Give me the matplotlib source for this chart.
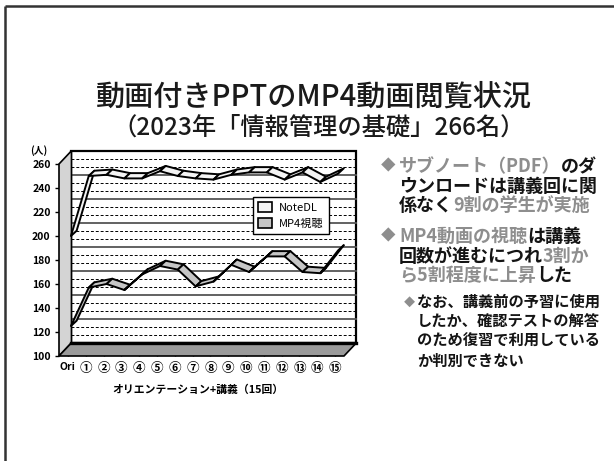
import numpy as np
import matplotlib
matplotlib.use('Agg')
import matplotlib.pyplot as plt
from matplotlib.patches import Polygon, Patch

plt.rcParams['font.family'] = ['Noto Sans CJK JP', 'DejaVu Sans']

# data
categories = ['Ori', '①', '②', '③', '④', '⑤', '⑥', '⑦',
              '⑧', '⑨', '⑩', '⑪', '⑫', '⑬', '⑭', '⑮']
note_dl = [200, 250, 251, 248, 248, 254, 250, 248, 247, 251, 253, 253, 247, 253, 245, 252]
mp4_view = [125, 157, 160, 155, 168, 175, 172, 158, 162, 176, 170, 183, 183, 170, 169, 188]
y_ticks = [100, 120, 140, 160, 180, 200, 220, 240, 260]
series_names = ['NoteDL', 'MP4視聴']

W, H = 614, 461
GRAY = '#8e8e8e'
DARK = '#141414'

fig = plt.figure(figsize=(W / 100, H / 100), dpi=100)
fig.patch.set_facecolor('white')

# background axes in pixel units (for slide frame and text)
bg = fig.add_axes([0, 0, 1, 1])
bg.set_xlim(0, W)
bg.set_ylim(H, 0)
bg.axis('off')

# slide frame (top and left only are visible)
bg.plot([5, W], [6, 6], color='#333333', lw=1.8, solid_capstyle='butt')
bg.plot([5, 5], [6, H], color='#333333', lw=1.8, solid_capstyle='butt')

bg.text(314, 97, '動画付きPPTのMP4動画閲覧状況', ha='center', va='center',
        fontsize=21, fontweight='medium', color='#1a1a1a')
bg.text(319, 128, '（2023年「情報管理の基礎」266名）', ha='center', va='center',
        fontsize=17.5, fontweight='medium', color='#1a1a1a')


def colored_line(x, y, pieces, size):
    prev = None
    for txt, col in pieces:
        if prev is None:
            prev = bg.text(x, y, txt, color=col, fontsize=size, fontweight='bold',
                           ha='left', va='center')
        else:
            prev = bg.annotate(txt, xy=(1, 0), xycoords=prev, color=col, fontsize=size,
                               fontweight='bold', ha='left', va='bottom')
    return prev


# right-hand bullet text
main_lines = [
    (166.5, True, [('サブノート（PDF）', GRAY), ('のダ', DARK)]),
    (186, False, [('ウンロードは講義回に関', DARK)]),
    (205, False, [('係なく', DARK), ('9割の学生が実施', GRAY)]),
    (236.5, True, [('MP4動画の視聴', GRAY), ('は講義', DARK)]),
    (256.5, False, [('回数が進むにつれ', DARK), ('3割か', GRAY)]),
    (275, False, [('ら5割程度に上昇', GRAY), ('した', DARK)]),
]
for y, bullet, pieces in main_lines:
    if bullet:
        bg.text(381, y, '◆', color=GRAY, fontsize=10.5, ha='left', va='center')
    colored_line(399, y, pieces, 13)

sub_lines = [
    (302, True, 'なお、講義前の予習に使用'),
    (321.5, False, 'したか、確認テストの解答'),
    (341, False, 'のため復習で利用している'),
    (361, False, 'か判別できない'),
]
for y, bullet, txt in sub_lines:
    if bullet:
        bg.text(404, y, '◆', color=GRAY, fontsize=8, ha='left', va='center')
    colored_line(417, y, [(txt, DARK)], 11)

# chart: front plane of the 3D box
ax = fig.add_axes([59 / W, 1 - 356 / H, 285 / W, 192 / H])
ax.set_xlim(-0.5, 15.5)
ax.set_ylim(100, 260)
for s in ax.spines.values():
    s.set_visible(False)
ax.patch.set_visible(False)

DX, DY = 0.7, 11.0        # depth of the box (data units)
x0, x1 = -0.5, 15.5
lo, hi = y_ticks[0], y_ticks[-1]

# back wall
ax.add_patch(Polygon([(x0 + DX, lo + DY), (x1 + DX, lo + DY), (x1 + DX, hi + DY), (x0 + DX, hi + DY)],
                     closed=True, fc='white', ec='black', lw=1.6, clip_on=False, zorder=1))
# grid on back wall: solid at major ticks, dashed at thirds
for k in range(1, 24):
    v = lo + k * 20 / 3
    if k % 3 == 0:
        ax.plot([x0 + DX, x1 + DX], [v + DY, v + DY], color='#555555', lw=1.3,
                clip_on=False, zorder=2)
    else:
        ax.plot([x0 + DX, x1 + DX], [v + DY, v + DY], color='black', lw=0.7,
                ls=(0, (3, 2)), clip_on=False, zorder=2)

# left wall
ax.add_patch(Polygon([(x0, lo), (x0, hi), (x0 + DX, hi + DY), (x0 + DX, lo + DY)],
                     closed=True, fc='#d4d4d4', ec='black', lw=1.2, clip_on=False, zorder=3))
# floor
ax.add_patch(Polygon([(x0, lo), (x1, lo), (x1 + DX, lo + DY), (x0 + DX, lo + DY)],
                     closed=True, fc='#9a9a9a', ec='black', lw=1.2, clip_on=False, zorder=3))
ax.plot([x0 + DX, x1 + DX], [lo + DY, lo + DY], color='black', lw=2.4, clip_on=False, zorder=3)

# ribbons
RX, RDX, RDY = 0.17, 0.32, 4.4


def ribbon(vals, color):
    for i in range(len(vals) - 1):
        xa, xb = i + RX, i + 1 + RX
        pts = [(xa, vals[i]), (xb, vals[i + 1]), (xb + RDX, vals[i + 1] + RDY), (xa + RDX, vals[i] + RDY)]
        ax.add_patch(Polygon(pts, closed=True, fc=color, ec='black', lw=1.4,
                             joinstyle='round', clip_on=False, zorder=4))


ribbon(note_dl, '#f4f4f4')
ribbon(mp4_view, '#c6c6c6')

ax.set_xticks(range(len(categories)))
ax.set_xticklabels(categories, fontsize=9, fontweight='bold')
ax.get_xticklabels()[0].set_fontsize(7.5)
ax.tick_params(axis='x', length=3, width=1, direction='in', pad=4, colors='black')
ax.set_yticks(y_ticks)
ax.set_yticklabels([str(v) for v in y_ticks], fontsize=7.5, fontweight='bold')
ax.tick_params(axis='y', length=3, width=1, direction='out', pad=3)
for t in ax.xaxis.get_major_ticks() + ax.yaxis.get_major_ticks():
    t.tick1line.set_zorder(5)

ax.set_xlabel('オリエンテーション+講義（15回）', fontsize=7.8, fontweight='bold')
ax.xaxis.set_label_coords((198 - 59) / 285, (356 - 385) / 192)
bg.text(39, 151, '(人)', ha='center', va='center', fontsize=7, fontweight='bold')

handles = [Patch(fc='#f4f4f4', ec='black', lw=1.2, label=series_names[0]),
           Patch(fc='#c6c6c6', ec='black', lw=1.2, label=series_names[1])]
leg = ax.legend(handles=handles, loc='upper left', bbox_to_anchor=(253 / W, 1 - 197 / H),
                bbox_transform=fig.transFigure, fancybox=False, edgecolor='black',
                framealpha=1, fontsize=8, handlelength=1.3, handleheight=1.0,
                borderpad=0.45, labelspacing=0.45, handletextpad=0.6, borderaxespad=0)
leg.get_frame().set_linewidth(1.0)
leg.set_zorder(6)

fig.savefig('out.png', dpi=100)
